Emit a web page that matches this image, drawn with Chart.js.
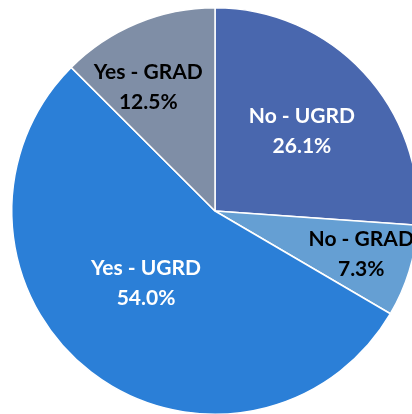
<!DOCTYPE html>
<html>
<head>
<meta charset="utf-8">
<script src="https://cdn.jsdelivr.net/npm/chart.js@4"></script>
<style>
    html, body { margin: 0; padding: 0; background: #fff; overflow: hidden; }
    #wrap { position: absolute; left: 0; top: -4px; width: 430px; height: 430px; }
</style>
</head>
<body>
<div id="wrap"><canvas id="pie-chart"></canvas></div>
<script>
var labels = ["No - UGRD", "No - GRAD", "Yes - UGRD", "Yes - GRAD"];
var values = [26.1, 7.3, 54.0, 12.5];
var colors = ["#4967ae", "#659fd3", "#2b7fd7", "#7f8ea6"];
var textColors = ["#ffffff", "#000000", "#ffffff", "#000000"];
// where each label sits: fraction of radius, angle shift (deg)
var labelRadius = [0.58, 0.75, 0.49, 0.69];
var labelShift = [0.5, -0.8, 6.2, -5.9];

var sliceLabels = {
    id: "sliceLabels",
    afterDatasetsDraw: function (chart) {
        var ctx = chart.ctx;
        var meta = chart.getDatasetMeta(0);
        ctx.save();
        ctx.font = "bold 21px Lato";
        ctx.textAlign = "center";
        ctx.textBaseline = "middle";
        meta.data.forEach(function (arc, i) {
            var p = arc.getProps(["x", "y", "startAngle", "endAngle", "outerRadius"], true);
            var a = (p.startAngle + p.endAngle) / 2 + labelShift[i] * Math.PI / 180;
            var r = p.outerRadius * labelRadius[i];
            var x = p.x + Math.cos(a) * r;
            var y = p.y + Math.sin(a) * r;
            ctx.fillStyle = textColors[i];
            ctx.fillText(labels[i], x, y - 15);
            ctx.fillText(values[i].toFixed(1) + "%", x, y + 15);
        });
        ctx.restore();
    }
};

function renderChart() {
    new Chart(document.getElementById("pie-chart"), {
        type: "pie",
        data: {
            labels: labels,
            datasets: [
                {
                    data: values,
                    backgroundColor: colors,
                    borderColor: "#ffffff",
                    borderWidth: 1.5,
                },
            ],
        },
        options: {
            responsive: true,
            maintainAspectRatio: false,
            animation: false,
            layout: { padding: 11 },
            plugins: {
                legend: { display: false },
                tooltip: { enabled: false },
            },
        },
        plugins: [sliceLabels],
    });
}

renderChart();
</script>
</body>
</html>
